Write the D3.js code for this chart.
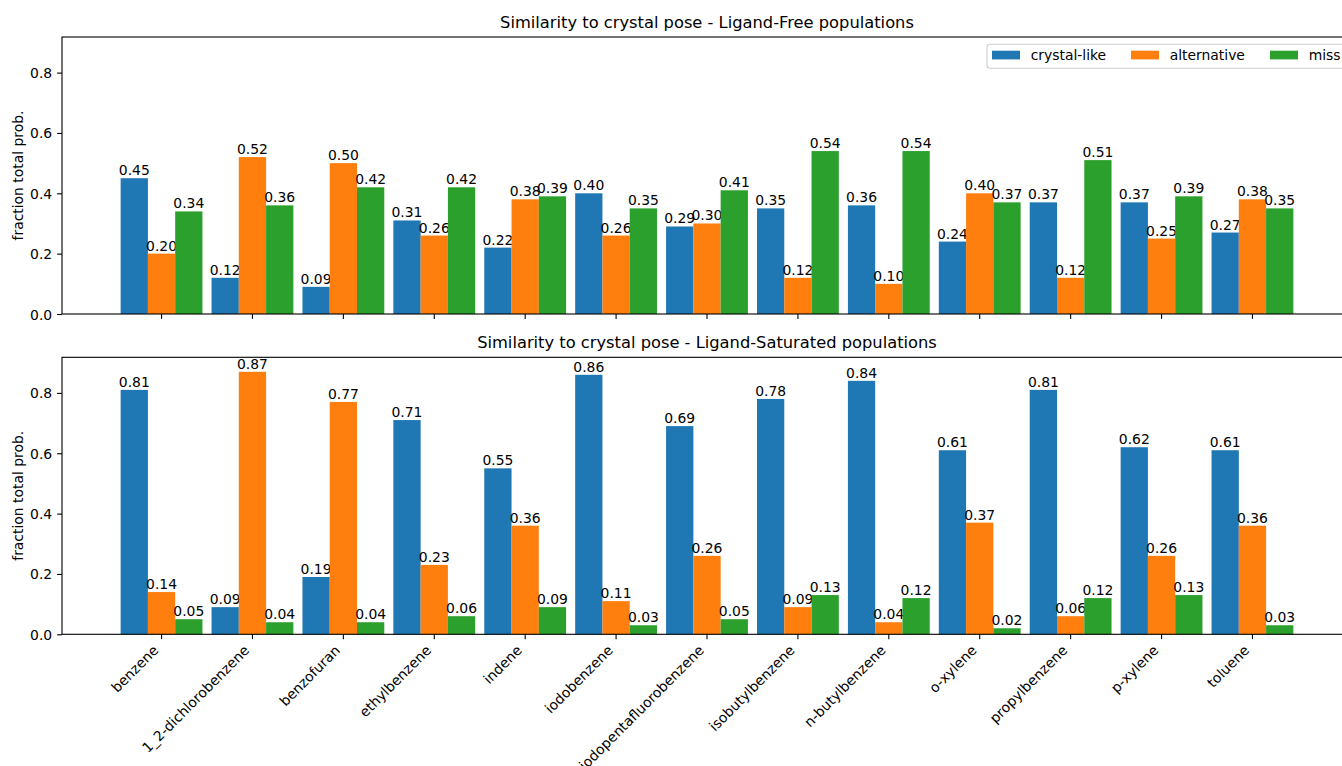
<!DOCTYPE html>
<html>
<head>
<meta charset="utf-8">
<script src="https://cdn.jsdelivr.net/npm/d3@7"></script>
<style>
  html, body { margin: 0; padding: 0; background: #fff; }
  svg { display: block; font-family: "DejaVu Sans", sans-serif; }
</style>
</head>
<body>
<svg id="chart" width="1342" height="766"></svg>
<script>
// Ligands (x categories)
const ligands = [
  "benzene", "1_2-dichlorobenzene", "benzofuran", "ethylbenzene", "indene",
  "iodobenzene", "iodopentafluorobenzene", "isobutylbenzene", "n-butylbenzene",
  "o-xylene", "propylbenzene", "p-xylene", "toluene"
];

// Pose classes (series)
const poseClasses = ["crystal-like", "alternative", "miss"];
const classColors = ["#1f77b4", "#ff7f0e", "#2ca02c"];

// Ligand-Free populations
const freeCrystalLike = [0.45, 0.12, 0.09, 0.31, 0.22, 0.40, 0.29, 0.35, 0.36, 0.24, 0.37, 0.37, 0.27];
const freeAlternative = [0.20, 0.52, 0.50, 0.26, 0.38, 0.26, 0.30, 0.12, 0.10, 0.40, 0.12, 0.25, 0.38];
const freeMiss        = [0.34, 0.36, 0.42, 0.42, 0.39, 0.35, 0.41, 0.54, 0.54, 0.37, 0.51, 0.39, 0.35];

// Ligand-Saturated populations
const satCrystalLike = [0.81, 0.09, 0.19, 0.71, 0.55, 0.86, 0.69, 0.78, 0.84, 0.61, 0.81, 0.62, 0.61];
const satAlternative = [0.14, 0.87, 0.77, 0.23, 0.36, 0.11, 0.26, 0.09, 0.04, 0.37, 0.06, 0.26, 0.36];
const satMiss        = [0.05, 0.04, 0.04, 0.06, 0.09, 0.03, 0.05, 0.13, 0.12, 0.02, 0.12, 0.13, 0.03];

const yTicks = [0.0, 0.2, 0.4, 0.6, 0.8];
const yMax = 0.918;

const panels = [
  { title: "Similarity to crystal pose - Ligand-Free populations",
    series: [freeCrystalLike, freeAlternative, freeMiss], top: 37, showLabels: false, legend: true },
  { title: "Similarity to crystal pose - Ligand-Saturated populations",
    series: [satCrystalLike, satAlternative, satMiss], top: 357.3, showLabels: true, legend: false }
];

const svg = d3.select("#chart");
const axLeft = 62, axRight = 1352, axHeight = 277;
const fs = 13.9, titleFs = 16.3, tickLen = 4.9, tickPad = 4.9;
const fmt2 = d3.format(".2f");

const x = d3.scaleBand().domain(ligands).range([axLeft, axRight])
  .paddingInner(0.1).paddingOuter(0.645);
const xSub = d3.scaleBand().domain(poseClasses).range([0, x.bandwidth()]).padding(0);

panels.forEach(p => {
  const y = d3.scaleLinear().domain([0, yMax]).range([p.top + axHeight, p.top]);
  const g = svg.append("g");

  // bars with value labels
  p.series.forEach((vals, si) => {
    const cls = poseClasses[si];
    const sg = g.append("g");
    sg.selectAll("rect").data(vals).join("rect")
      .attr("x", (d, i) => x(ligands[i]) + xSub(cls))
      .attr("width", xSub.bandwidth())
      .attr("y", d => y(d))
      .attr("height", d => y(0) - y(d))
      .attr("fill", classColors[si]);
    sg.selectAll("text").data(vals).join("text")
      .attr("x", (d, i) => x(ligands[i]) + xSub(cls) + xSub.bandwidth() / 2)
      .attr("y", d => y(d) - 3)
      .attr("text-anchor", "middle")
      .attr("font-size", fs)
      .attr("fill", "#000")
      .text(d => fmt2(d));
  });

  // frame
  g.append("rect")
    .attr("x", axLeft).attr("y", p.top)
    .attr("width", axRight - axLeft).attr("height", axHeight)
    .attr("fill", "none").attr("stroke", "#000").attr("stroke-width", 1.1);

  // y axis
  const yAxis = g.append("g").attr("transform", `translate(${axLeft},0)`)
    .call(d3.axisLeft(y).tickValues(yTicks).tickFormat(d3.format(".1f"))
      .tickSize(tickLen).tickPadding(tickPad));
  yAxis.select(".domain").remove();
  yAxis.selectAll("line").attr("stroke", "#000").attr("stroke-width", 1.1);
  yAxis.selectAll("text").attr("font-size", fs).attr("font-family", "DejaVu Sans")
    .attr("fill", "#000").attr("dy", "0.36em");

  // x axis
  const xAxis = g.append("g").attr("transform", `translate(0,${p.top + axHeight})`)
    .call(d3.axisBottom(x).tickSize(tickLen).tickPadding(tickPad));
  xAxis.select(".domain").remove();
  xAxis.selectAll("line").attr("stroke", "#000").attr("stroke-width", 1.1);
  if (p.showLabels) {
    xAxis.selectAll("text")
      .attr("font-size", fs).attr("font-family", "DejaVu Sans").attr("fill", "#000")
      .attr("text-anchor", "end")
      .attr("dy", null).attr("y", null)
      .attr("transform", "translate(-2.3,17) rotate(-45)");
  } else {
    xAxis.selectAll("text").remove();
  }

  // y label
  g.append("text")
    .attr("transform", `translate(23,${p.top + axHeight / 2}) rotate(-90)`)
    .attr("text-anchor", "middle")
    .attr("font-size", fs)
    .attr("fill", "#000")
    .text("fraction total prob.");

  // title
  g.append("text")
    .attr("x", (axLeft + axRight) / 2)
    .attr("y", p.top - 9)
    .attr("text-anchor", "middle")
    .attr("font-size", titleFs)
    .attr("fill", "#000")
    .text(p.title);

  // legend
  if (p.legend) {
    const lg = g.append("g").attr("transform", `translate(987,${p.top + 7.3})`);
    lg.append("rect")
      .attr("x", 0).attr("y", 0).attr("width", 358).attr("height", 24)
      .attr("rx", 3).attr("fill", "#fff").attr("fill-opacity", 0.8)
      .attr("stroke", "#cccccc").attr("stroke-width", 1.1);
    poseClasses.forEach((c, i) => {
      const ox = 5 + i * 139;
      lg.append("rect").attr("x", ox).attr("y", 6.4)
        .attr("width", 28).attr("height", 8.7).attr("fill", classColors[i]);
      lg.append("text").attr("x", ox + 38.7).attr("y", 16.2)
        .attr("font-size", fs).attr("fill", "#000").text(c);
    });
  }
});
</script>
</body>
</html>
